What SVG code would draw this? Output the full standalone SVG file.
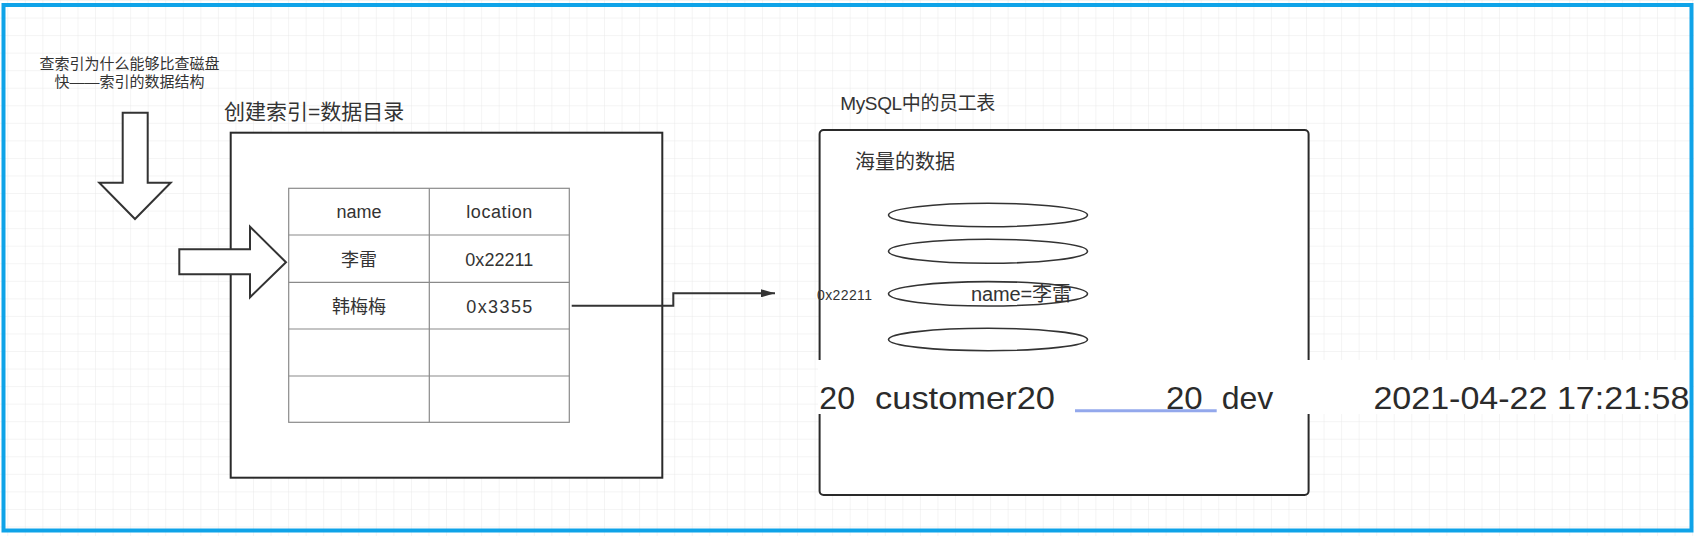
<svg xmlns="http://www.w3.org/2000/svg" width="1694" height="536" viewBox="0 0 1694 536">
  <style>
    .t { font-family: "Liberation Sans", "Noto Sans CJK SC", sans-serif; fill: #333; }
    .box { fill: #fff; stroke: #2a2a2a; stroke-width: 2; }
    .blk { fill: #fff; stroke: #333; stroke-width: 2; stroke-linejoin: miter; }
    .cell { fill: none; stroke: #8a8a8a; stroke-width: 1.2; }
    .ell { fill: #fff; stroke: #333; stroke-width: 1.6; }
    .conn { fill: none; stroke: #333; stroke-width: 2; }
    .band { font-family: "Liberation Sans", "Noto Sans CJK SC", sans-serif; fill: #2b2b2b; font-size: 32px; }
  </style>
  <defs>
    <pattern id="grid" x="7.3" y="0" width="17.55" height="17.55" patternUnits="userSpaceOnUse">
      <path d="M0 0 H17.55 M0 0 V17.55" fill="none" stroke="#e9e9e9" stroke-width="1"/>
    </pattern>
    <marker id="ah" viewBox="0 0 14 8" refX="14" refY="4" markerWidth="14" markerHeight="8" markerUnits="userSpaceOnUse" orient="auto">
      <path d="M0 0 L14 4 L0 8 Z" fill="#333"/>
    </marker>
  </defs>

  <rect x="0" y="0" width="1694" height="536" fill="#fff"/>
  <rect x="0" y="0" width="1694" height="536" fill="url(#grid)"/>

  <g id="note">
    <text class="t" x="129.5" y="69" font-size="15" text-anchor="middle">查索引为什么能够比查磁盘</text>
    <text class="t" x="129.5" y="87" font-size="15" text-anchor="middle">快——索引的数据结构</text>
  </g>

  <g id="down-arrow">
    <polygon class="blk" points="122.7,112.7 147.7,112.7 147.7,182.7 170.7,182.7 135,219 99.3,182.7 122.7,182.7"/>
  </g>

  <g id="index-box">
    <text class="t" x="224" y="119" font-size="21">创建索引=数据目录</text>
    <rect class="box" x="230.7" y="132.7" width="431.6" height="345"/>
  </g>

  <g id="index-table">
    <rect class="cell" x="288.7" y="188.3" width="280.6" height="234"/>
    <path class="cell" d="M429.3 188.3 V422.3 M288.7 235 H569.3 M288.7 282.3 H569.3 M288.7 329 H569.3 M288.7 376 H569.3"/>
    <text class="t" x="359" y="218" font-size="18" text-anchor="middle">name</text>
    <text class="t" x="499.3" y="218" font-size="18" text-anchor="middle" textLength="66">location</text>
    <text class="t" x="359" y="265.5" font-size="18" text-anchor="middle">李雷</text>
    <text class="t" x="499.3" y="265.5" font-size="18" text-anchor="middle" textLength="68">0x22211</text>
    <text class="t" x="359" y="312.5" font-size="18" text-anchor="middle">韩梅梅</text>
    <text class="t" x="499.3" y="312.5" font-size="18" text-anchor="middle" textLength="66">0x3355</text>
  </g>

  <g id="right-arrow">
    <polygon class="blk" points="179.3,249.3 250,249.3 250,226.7 286,262.3 250,297.3 250,274.3 179.3,274.3"/>
  </g>

  <g id="table-box">
    <text class="t" x="840.3" y="109.5" font-size="19" textLength="155">MySQL中的员工表</text>
    <rect class="box" x="819.6" y="130" width="489" height="365" rx="4"/>
    <text class="t" x="855" y="168.7" font-size="20">海量的数据</text>
  </g>

  <g id="records">
    <ellipse class="ell" cx="988" cy="215" rx="99.5" ry="11.7"/>
    <ellipse class="ell" cx="988" cy="251.3" rx="99.5" ry="12"/>
    <ellipse class="ell" cx="988" cy="293.8" rx="99.5" ry="12.2"/>
    <ellipse class="ell" cx="988" cy="339.5" rx="99.5" ry="11.2"/>
    <text class="t" x="817" y="299.5" font-size="14" textLength="55">0x22211</text>
    <text class="t" x="971" y="301" font-size="20" textLength="101">name=李雷</text>
  </g>

  <g id="connectors">
    <path class="conn" d="M571.7 305.7 H673.3 V293.3 H775" marker-end="url(#ah)"/>
  </g>

  <g id="overlay-band">
    <rect x="818" y="360" width="872" height="54" fill="#fff"/>
    <line x1="1075" y1="410.7" x2="1216.7" y2="410.7" stroke="#93a8ec" stroke-width="3"/>
    <text class="band" x="819.3" y="409" textLength="35.7" lengthAdjust="spacingAndGlyphs">20</text>
    <text class="band" x="875" y="409" textLength="180" lengthAdjust="spacingAndGlyphs">customer20</text>
    <text class="band" x="1166" y="409" textLength="36.7" lengthAdjust="spacingAndGlyphs">20</text>
    <text class="band" x="1221.7" y="409" textLength="51.6" lengthAdjust="spacingAndGlyphs">dev</text>
    <text class="band" x="1373.4" y="409" textLength="316" lengthAdjust="spacingAndGlyphs">2021-04-22 17:21:58</text>
  </g>

  <rect id="frame" x="3.5" y="5" width="1688" height="525.5" fill="none" stroke="#0fa3e8" stroke-width="4"/>
</svg>
